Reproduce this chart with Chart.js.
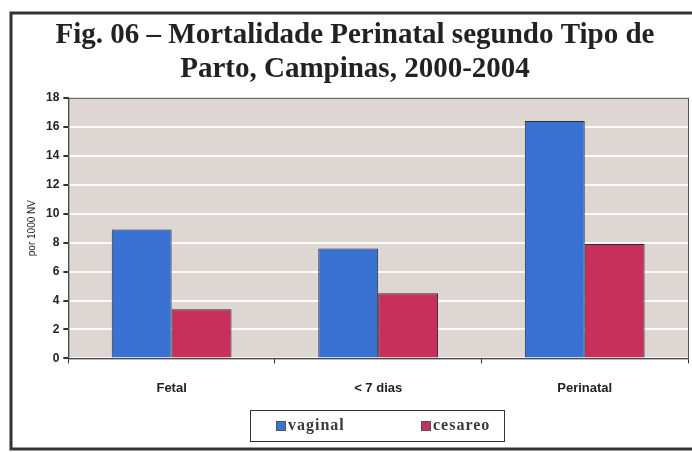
<!DOCTYPE html>
<html>
<head>
<meta charset="utf-8">
<script src="https://cdn.jsdelivr.net/npm/chart.js@4/dist/chart.umd.min.js"></script>
<style>
  body { margin: 0; background: #fff; }
  #wrap { width: 692px; height: 452px; position: relative; }
</style>
</head>
<body>
<div id="wrap"><canvas id="chart" width="692" height="452"></canvas></div>
<script>
const categories = ['Fetal', '< 7 dias', 'Perinatal'];
const vaginal = [8.9, 7.6, 16.4];
const cesareo = [3.4, 4.5, 7.9];
const titleLines = ['Fig. 06 – Mortalidade Perinatal segundo Tipo de', 'Parto, Campinas, 2000-2004'];

// grey plot background, outer frame and the boxed legend
const decor = {
  id: 'decor',
  beforeDraw(chart) {
    const { ctx, chartArea: a } = chart;
    ctx.save();
    ctx.fillStyle = '#ddd6d3';
    ctx.fillRect(a.left, a.top, a.right - a.left, a.bottom - a.top);
    ctx.restore();
  },
  afterDraw(chart) {
    const { ctx, chartArea: a } = chart;
    ctx.save();
    ctx.strokeStyle = '#555';
    ctx.lineWidth = 1;
    ctx.strokeRect(a.left + 0.5, a.top + 0.5, a.right - a.left, a.bottom - a.top);
    ctx.strokeStyle = '#333';
    ctx.lineWidth = 3;
    ctx.strokeRect(11, 13, 690, 436);

    // legend box with its two entries
    ctx.lineWidth = 1;
    ctx.strokeStyle = '#333';
    ctx.strokeRect(250.5, 410.5, 254, 31);
    const itemX = [276, 421];
    ctx.font = 'bold 16px "Liberation Serif"';
    ctx.letterSpacing = '1px';
    ctx.textBaseline = 'middle';
    chart.data.datasets.forEach((ds, i) => {
      ctx.fillStyle = ds.backgroundColor;
      ctx.fillRect(itemX[i], 421, 10, 10);
      ctx.strokeStyle = '#555';
      ctx.strokeRect(itemX[i] + 0.5, 421.5, 9, 9);
      ctx.fillStyle = '#3a3a3a';
      ctx.fillText(ds.label, itemX[i] + 12, 426);
    });
    ctx.restore();
  }
};

new Chart(document.getElementById('chart'), {
  type: 'bar',
  data: {
    labels: categories,
    datasets: [
      { label: 'vaginal', data: vaginal, backgroundColor: '#3a72d4', borderColor: '#2a2a3a', borderWidth: 1 },
      { label: 'cesareo', data: cesareo, backgroundColor: '#c8305c', borderColor: '#2a2a3a', borderWidth: 1 }
    ]
  },
  options: {
    responsive: false,
    animation: false,
    layout: { padding: { left: 22, right: 4, top: 10, bottom: 39 } },
    datasets: { bar: { categoryPercentage: 0.58, barPercentage: 1 } },
    plugins: {
      title: {
        display: true,
        text: titleLines,
        color: '#222',
        font: { family: 'Liberation Serif', size: 29, weight: 'bold', lineHeight: 1.17 },
        padding: { top: 9, bottom: 11 }
      },
      legend: { display: false },
      tooltip: { enabled: false }
    },
    scales: {
      x: {
        grid: { display: true, drawOnChartArea: false, offset: true, color: '#333', tickLength: 5 },
        border: { color: '#333' },
        ticks: { color: '#222', padding: 17, font: { family: 'Liberation Sans', size: 13, weight: 'bold' } }
      },
      y: {
        min: 0,
        max: 18,
        ticks: { stepSize: 2, color: '#222', padding: 4, font: { family: 'Liberation Sans', size: 12, weight: 'bold' } },
        grid: { color: '#fafafa', lineWidth: 2, tickLength: 5, tickColor: '#333' },
        border: { color: '#333' },
        title: { display: true, text: 'por 1000 NV', color: '#222', font: { family: 'Liberation Sans', size: 10 }, padding: 4 }
      }
    }
  },
  plugins: [decor]
});
</script>
</body>
</html>
